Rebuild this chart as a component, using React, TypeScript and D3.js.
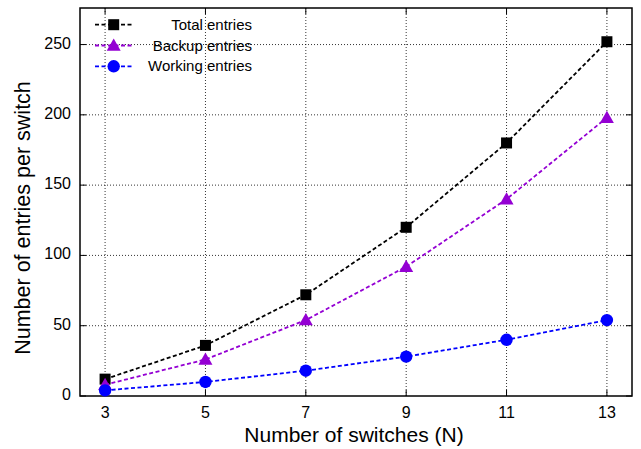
import React from "react";
import * as d3 from "d3";

const switches = [3, 5, 7, 9, 11, 13];
const totalEntries = [12, 36, 72, 120, 180, 252];
const backupEntries = [8, 26, 54, 92, 140, 198];
const workingEntries = [4, 10, 18, 28, 40, 54];
const yTicks = [0, 50, 100, 150, 200, 250];
const seriesNames = ["Total entries", "Backup entries", "Working entries"];
const seriesColors = ["#000000", "#9400D3", "#0000FF"];
const seriesMarkers = ["square", "triangle", "circle"];

const W = 641, H = 449;
const L = 80, R = 632, T = 8, B = 396;

export default function App() {
  const x = d3.scaleLinear().domain([2.5, 13.5]).range([L, R]);
  const y = d3.scaleLinear().domain([0, 276]).range([B, T]);
  const allSeries = [totalEntries, backupEntries, workingEntries];
  const line = d3.line<number>().x((_, i) => x(switches[i])).y((d) => y(d));
  const font = "Liberation Sans, Arial, Helvetica, sans-serif";

  const marker = (kind: string, cx: number, cy: number, color: string, key: any) => {
    if (kind === "square") return <rect key={key} x={cx - 5.5} y={cy - 5.5} width={11} height={11} fill={color} />;
    if (kind === "triangle") {
      const s = 7;
      return <path key={key} d={`M${cx},${cy - s}L${cx + s},${cy + s * 0.75}L${cx - s},${cy + s * 0.75}Z`} fill={color} />;
    }
    return <circle key={key} cx={cx} cy={cy} r={6.2} fill={color} />;
  };

  return (
    <svg width={W} height={H} style={{ position: "absolute", left: 0, top: 0, background: "#fff" }}>
      <rect width={W} height={H} fill="#fff" />
      {/* grid */}
      {switches.map((s) => (
        <line key={"gx" + s} x1={x(s)} x2={x(s)} y1={T} y2={B} stroke="#000" strokeWidth={0.8} strokeDasharray="1,2" />
      ))}
      {yTicks.filter((t) => t > 0).map((t) => (
        <line key={"gy" + t} x1={L} x2={R} y1={y(t)} y2={y(t)} stroke="#000" strokeWidth={0.8} strokeDasharray="1,2" />
      ))}
      {/* ticks */}
      {switches.map((s) => (
        <g key={"tx" + s}>
          <line x1={x(s)} x2={x(s)} y1={B} y2={B - 6} stroke="#000" strokeWidth={1} />
          <line x1={x(s)} x2={x(s)} y1={T} y2={T + 6} stroke="#000" strokeWidth={1} />
          <text x={x(s)} y={418} textAnchor="middle" fontFamily={font} fontSize={16} fill="#000">{s}</text>
        </g>
      ))}
      {yTicks.map((t) => (
        <g key={"ty" + t}>
          <line x1={L} x2={L + 6} y1={y(t)} y2={y(t)} stroke="#000" strokeWidth={1} />
          <line x1={R} x2={R - 6} y1={y(t)} y2={y(t)} stroke="#000" strokeWidth={1} />
          <text x={71} y={y(t) + 4} textAnchor="end" fontFamily={font} fontSize={16} fill="#000">{t}</text>
        </g>
      ))}
      {/* frame */}
      <rect x={L} y={T} width={R - L} height={B - T} fill="none" stroke="#000" strokeWidth={1.5} />
      {/* series */}
      {allSeries.map((vals, si) => (
        <g key={"s" + si}>
          <path d={line(vals) || ""} fill="none" stroke={seriesColors[si]} strokeWidth={1.8} strokeDasharray="4,2.5" />
          {vals.map((v, i) => marker(seriesMarkers[si], x(switches[i]), y(v), seriesColors[si], i))}
        </g>
      ))}
      {/* legend */}
      {seriesNames.map((n, i) => {
        const ly = 24.7 + i * 20.8;
        return (
          <g key={"lg" + i}>
            <line x1={95} x2={132} y1={ly} y2={ly} stroke={seriesColors[i]} strokeWidth={1.8} strokeDasharray="4,2.5" />
            {marker(seriesMarkers[i], 113.7, ly, seriesColors[i], "m")}
            <text x={252} y={ly + 5} textAnchor="end" fontFamily={font} fontSize={15} fill="#000">{n}</text>
          </g>
        );
      })}
      {/* axis titles */}
      <text x={354} y={442} textAnchor="middle" fontFamily={font} fontSize={21} fill="#000">Number of switches (N)</text>
      <text transform={`translate(30,218) rotate(-90)`} textAnchor="middle" fontFamily={font} fontSize={21.5} fill="#000">Number of entries per switch</text>
    </svg>
  );
}
